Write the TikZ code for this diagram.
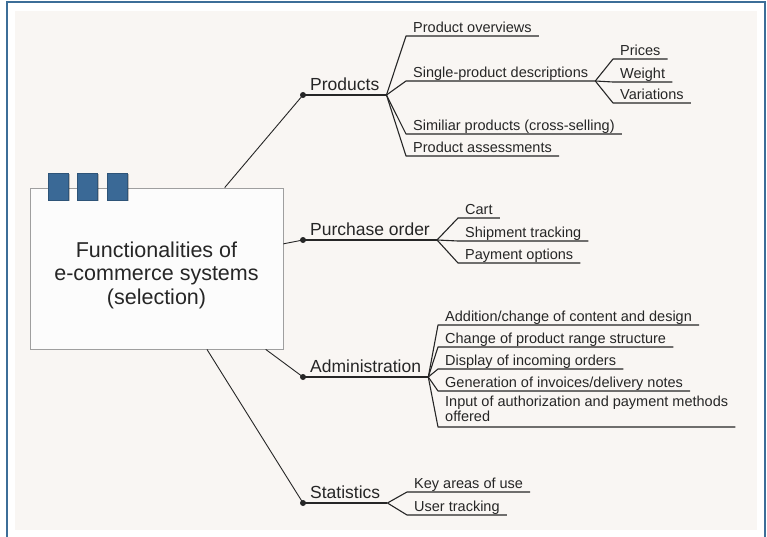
\documentclass[tikz,border=0pt]{standalone}
\usepackage{fontspec}
\setmainfont{Liberation Sans}
\usetikzlibrary{positioning}
\definecolor{frameblue}{RGB}{60,110,152}
\definecolor{tabblue}{RGB}{58,105,150}
\definecolor{panel}{RGB}{249,246,243}
\definecolor{ink}{RGB}{38,38,38}

\begin{document}
\begin{tikzpicture}[x=1pt,y=-1pt,
    branch/.style={inner xsep=7pt, inner ysep=0pt, anchor=south west, text depth=4.5pt, text height=12.5pt, font=\fontsize{17.5}{20}\selectfont, text=ink},
    leaf/.style={inner xsep=7pt, inner ysep=0pt, anchor=south west, text depth=3.5pt, text height=10.5pt, font=\fontsize{14.5}{14}\selectfont, text=ink, align=left},
    stem/.style={ink, line width=0.9pt},
    twig/.style={ink, line width=1.1pt, line join=round},
    knot/.style={circle, fill=ink, inner sep=0pt, minimum size=6pt}]
    \useasboundingbox (0,0) rectangle (767,537);
    % Rahmen und Hintergrund
    \fill[white] (0,0) rectangle (767,537);
    \fill[panel] (15,11) rectangle (757,530);
    \draw[frameblue, line width=2.4pt] (7,537) -- (7,2) -- (765,2) -- (765,537);
    % zentrale Box
    \node[draw=gray!75, fill=white!98!gray, line width=0.8pt, minimum width=253pt, minimum height=161pt, inner sep=0pt] (core) at (156.5,268.5) {};
    \foreach \i in {0,1,2} {
        \fill[black, opacity=0.25] (49.5+29.5*\i,174.5) rectangle ++(20,27);
        \draw[tabblue!80!black, fill=tabblue, line width=0.6pt] (48+29.5*\i,173) rectangle ++(20,27);
    }
    \node[align=center, font=\fontsize{21.5}{23.5}\selectfont, text=ink] (title) at (156.5,275) {Functionalities of\\e-commerce systems\\(selection)};
    % Hauptaeste
    \node[branch] (prod) at (303,95) {Products};
    \node[branch] (order) at (303,240) {Purchase order};
    \node[branch] (admin) at (303,377) {Administration};
    \node[branch] (stats) at (303,503) {Statistics};
    \foreach \b in {prod,order,admin,stats} {
        \draw[stem] (core) -- (\b.south west);
        \draw[twig] (\b.south west) -- (\b.south east);
        \node[knot] (\b-knot) at (\b.south west) {};
    }
    % Products
    \node[leaf] (ovw) at (406,36) {Product overviews};
    \node[leaf] (single) at (406,81) {Single-product descriptions};
    \node[leaf] (similar) at (406,134) {Similiar products (cross-selling)};
    \node[leaf] (assess) at (406,156) {Product assessments};
    \foreach \l in {ovw,single,similar,assess}
        \draw[twig] (prod.south east) -- (\l.south west) -- (\l.south east);
    \node[leaf] (prices) at (613,59) {Prices};
    \node[leaf] (weight) at (613,82) {Weight};
    \node[leaf] (variations) at (613,103) {Variations};
    \foreach \l in {prices,weight,variations}
        \draw[twig] (single.south east) -- (\l.south west) -- (\l.south east);
    % Purchase order
    \node[leaf] (cart) at (458,218) {Cart};
    \node[leaf] (ship) at (458,241) {Shipment tracking};
    \node[leaf] (payopt) at (458,263) {Payment options};
    \foreach \l in {cart,ship,payopt}
        \draw[twig] (order.south east) -- (\l.south west) -- (\l.south east);
    % Administration
    \node[leaf] (content) at (438,325) {Addition/change of content and design};
    \node[leaf] (range) at (438,347) {Change of product range structure};
    \node[leaf] (incoming) at (438,369) {Display of incoming orders};
    \node[leaf] (invoices) at (438,391) {Generation of invoices/delivery notes};
    \node[leaf, text height={}, text depth={}, inner ysep=1pt, font=\fontsize{14.5}{15}\selectfont] (authpay) at (438,427) {Input of authorization and payment methods\\offered\strut};
    \foreach \l in {content,range,incoming,invoices,authpay}
        \draw[twig] (admin.south east) -- (\l.south west) -- (\l.south east);
    % Statistics
    \node[leaf] (keyuse) at (407,492) {Key areas of use};
    \node[leaf] (tracking) at (407,515) {User tracking};
    \foreach \l in {keyuse,tracking}
        \draw[twig] (stats.south east) -- (\l.south west) -- (\l.south east);
\end{tikzpicture}
\end{document}
